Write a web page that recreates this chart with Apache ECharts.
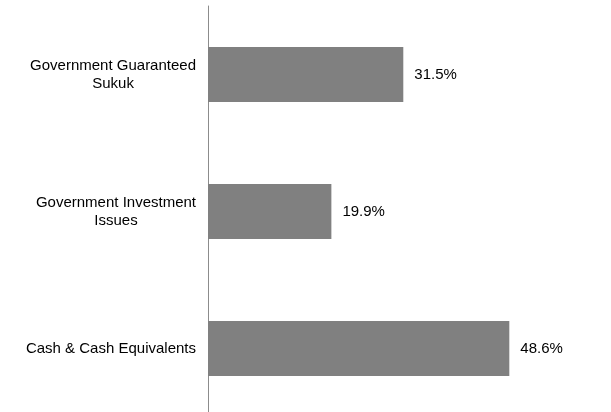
<!DOCTYPE html>
<html><head><meta charset="utf-8">
<script src="https://cdn.jsdelivr.net/npm/echarts@6/dist/echarts.min.js"></script>
<style>html,body{margin:0;padding:0;background:#fff}#c{width:611px;height:412px}</style>
</head><body><div id="c"></div>
<script>
var categories = ["Government Guaranteed\nSukuk", "Government Investment\nIssues", "Cash & Cash Equivalents"];
var values = [31.5, 19.9, 48.6];

var chart = echarts.init(document.getElementById('c'));
chart.setOption({
  animation: false,
  grid: { left: 208, right: 0, top: 6, bottom: -5, outerBoundsMode: 'none' },
  xAxis: { type: 'value', min: 0, max: 65, show: false },
  yAxis: {
    type: 'category', inverse: true, data: categories,
    axisLine: { show: true, lineStyle: { color: '#8c8c8c', width: 1 } },
    axisTick: { show: false },
    axisLabel: {
      margin: 12, fontFamily: 'Liberation Sans, Arial', fontSize: 15, color: '#000', lineHeight: 18,
      formatter: function (v) { return v.split('\n').map(function (l) { return '{c|' + l + '}'; }).join('\n'); },
      rich: { c: { align: 'center', fontFamily: 'Liberation Sans, Arial', fontSize: 15, color: '#000', lineHeight: 18 } }
    }
  },
  series: [{
    type: 'bar', data: values, barCategoryGap: '60%',
    itemStyle: { color: '#808080' },
    label: { show: true, position: 'right', distance: 11, fontFamily: 'Liberation Sans, Arial', fontSize: 15, color: '#000',
      formatter: function (p) { return p.value.toFixed(1) + '%'; } }
  }]
});
</script></body></html>
